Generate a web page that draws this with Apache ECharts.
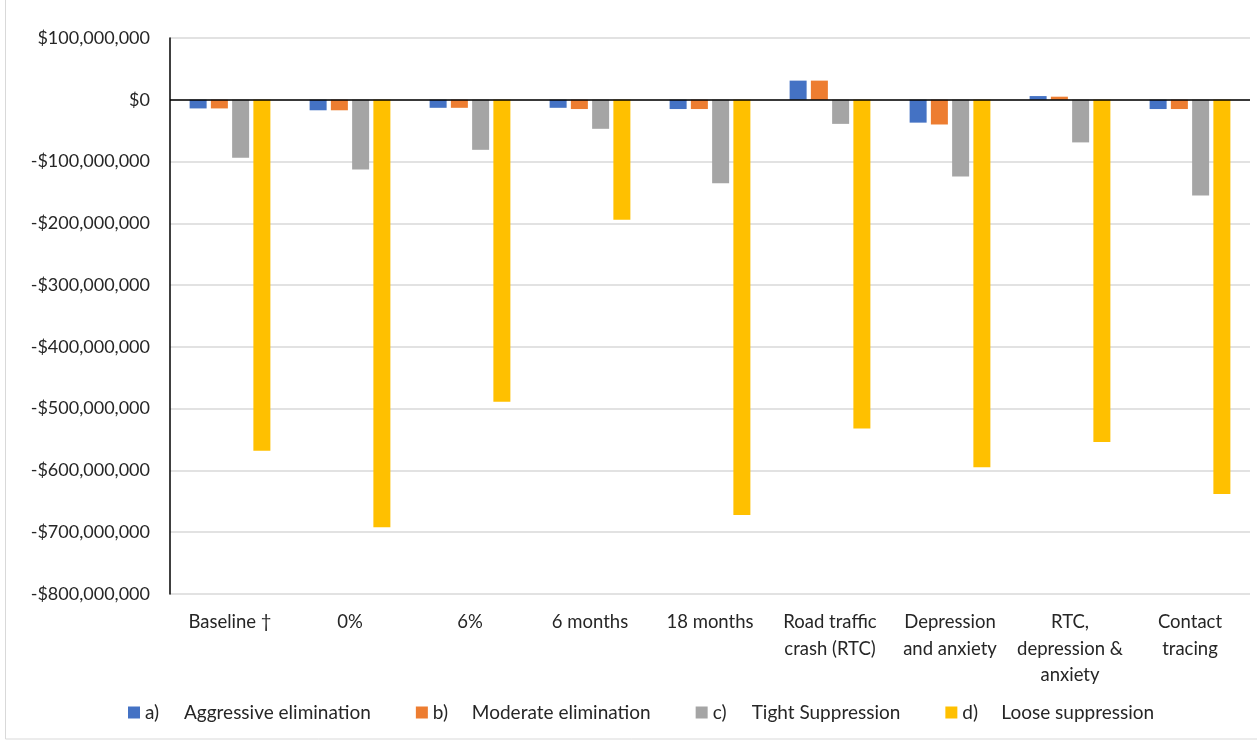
<!DOCTYPE html>
<html><head><meta charset="utf-8">
<script src="https://cdn.jsdelivr.net/npm/echarts@6/dist/echarts.min.js"></script>
<style>html,body{margin:0;padding:0;background:#fff}#c{width:1257px;height:740px}</style>
</head><body><div id="c"></div>
<script>
const categories = ['Baseline \u2020', '0%', '6%', '6 months', '18 months', 'Road traffic\ncrash (RTC)', 'Depression\nand anxiety', 'RTC,\ndepression &\nanxiety', 'Contact\ntracing'];
const seriesPrefixes = ['a)', 'b)', 'c)', 'd)'];
const seriesNames = ['Aggressive elimination', 'Moderate elimination', 'Tight Suppression', 'Loose suppression'];
const aggressive = [-14e6, -17e6, -13e6, -13e6, -15e6, 31e6, -37e6, 6e6, -15e6];
const moderate   = [-14e6, -17e6, -13e6, -15e6, -15e6, 31e6, -40e6, 5e6, -15e6];
const tight      = [-94e6, -113e6, -81e6, -47e6, -135e6, -39e6, -124e6, -69e6, -155e6];
const loose      = [-568e6, -692e6, -489e6, -194e6, -672e6, -532e6, -595e6, -554e6, -638e6];
const colors = ['#4472C4', '#ED7D31', '#A5A5A5', '#FFC000'];

const fmt = v => (v < 0 ? '-' : '') + '$' + Math.abs(v).toLocaleString('en-US');
const font = 'Lato, "Open Sans", sans-serif';
const chart = echarts.init(document.getElementById('c'));
const data = [aggressive, moderate, tight, loose];
const fullNames = seriesNames.map((n, i) => seriesPrefixes[i] + '|' + n);
chart.setOption({
  animation: false,
  textStyle: { fontFamily: font },
  graphic: [{ type: 'rect', shape: { x: 5.5, y: -2, width: 1300, height: 741 }, style: { fill: 'none', stroke: '#d9d9d9', lineWidth: 1 }, silent: true }],
  grid: { left: 170, right: 7, top: 38, bottom: 146 },
  legend: {
    bottom: 13, left: 123, icon: 'rect', itemWidth: 12, itemHeight: 12, itemGap: 45,
    formatter: name => { const p = name.split('|'); return '{p|' + p[0] + '}{n|' + p[1] + '}'; },
    textStyle: { fontSize: 19, color: '#262626', fontFamily: font,
      rich: { p: { width: 39, fontSize: 19, color: '#262626', fontFamily: font }, n: { fontSize: 19, color: '#262626', fontFamily: font } } }
  },
  xAxis: {
    type: 'category', data: categories,
    axisLine: { show: false, onZero: false }, axisTick: { show: false },
    axisLabel: { interval: 0, fontSize: 18.5, color: '#262626', lineHeight: 26.5, margin: 15, fontFamily: font }
  },
  yAxis: {
    type: 'value', min: -800e6, max: 100e6, interval: 100e6,
    axisLine: { show: true, lineStyle: { color: '#000', width: 1.5 } },
    axisTick: { show: false },
    splitLine: { lineStyle: { color: '#d9d9d9', width: 1.5 } },
    axisLabel: { formatter: fmt, fontSize: 18, color: '#262626', margin: 20, fontFamily: font }
  },
  series: data.map((d, i) => ({
    name: fullNames[i], type: 'bar', data: d, barWidth: 17, barGap: '25%',
    itemStyle: { color: colors[i] },
    markLine: i === 0 ? { silent: true, symbol: 'none', label: { show: false },
      lineStyle: { color: '#000', width: 1.5, type: 'solid' }, data: [{ yAxis: 0 }] } : undefined
  }))
});
</script></body></html>
